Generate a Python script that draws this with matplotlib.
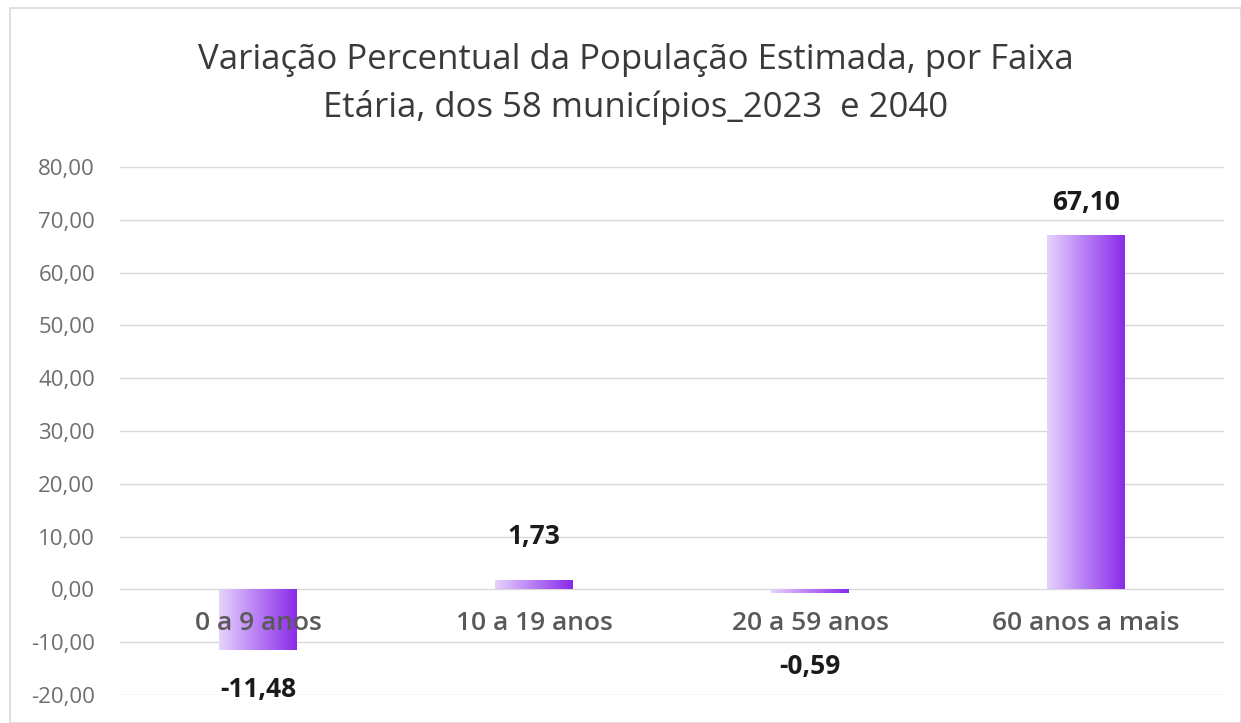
import numpy as np
import matplotlib

matplotlib.use("Agg")
import matplotlib.pyplot as plt  # noqa: E402
from matplotlib.colors import LinearSegmentedColormap  # noqa: E402
from matplotlib.patches import Rectangle  # noqa: E402

# -------------------------------
# Data
# -------------------------------
categories = ["0 a 9 anos", "10 a 19 anos", "20 a 59 anos", "60 anos a mais"]
variacao = [-11.48, 1.73, -0.59, 67.10]
y_ticks = [-20, -10, 0, 10, 20, 30, 40, 50, 60, 70, 80]
title = "Variação Percentual da População Estimada, por Faixa\nEtária, dos 58 municípios_2023  e 2040"

# label offsets from bar end (the labels were nudged by hand in the original)
label_offsets = [-7.4, 8.3, -14.0, 6.1]


def fmt_br(v):
    return f"{v:.2f}".replace(".", ",")


plt.rcParams["font.family"] = ["Open Sans", "DejaVu Sans"]

fig = plt.figure(figsize=(12.41, 7.23), dpi=100)

# light frame around the chart area
fig.patches.append(Rectangle((10 / 1241, 0), 1 - 10 / 1241, 1 - 8 / 723,
                             transform=fig.transFigure, fill=False,
                             edgecolor="#d9d9d9", linewidth=1.2))

ax = fig.add_axes([120 / 1241, 1 - 695 / 723, 1104 / 1241, 528 / 723])
x = np.arange(len(categories))
ax.set_xlim(-0.5, len(categories) - 0.5)
ax.set_ylim(-20, 80)

cmap = LinearSegmentedColormap.from_list("roxo", ["#e6d3fb", "#b77cf5", "#8a2be8"])
grad = np.linspace(0, 1, 256).reshape(1, -1)

bars = ax.bar(x, variacao, width=0.28, color="none", edgecolor="none", zorder=3)
for b in bars:
    x0, w = b.get_x(), b.get_width()
    y0, h = b.get_y(), b.get_height()
    im = ax.imshow(grad, cmap=cmap, aspect="auto", zorder=3,
                   extent=[x0, x0 + w, min(y0, y0 + h), max(y0, y0 + h)])
    im.set_clip_path(b)

ax.set_yticks(y_ticks)
ax.set_yticklabels([fmt_br(v) for v in y_ticks], fontsize=16, color="#6e6e6e")
ax.set_xticks([])
ax.tick_params(axis="y", length=0, pad=18)
ax.grid(axis="y", color="#d9d9d9", linewidth=1.0, zorder=0)
ax.set_axisbelow(True)
for s in ax.spines.values():
    s.set_visible(False)

# category labels sit just below zero line
for xi, cat in zip(x, categories):
    ax.text(xi, -6.4, cat, ha="center", va="center", fontsize=19,
            fontweight="semibold", color="#595959", zorder=4)

# value labels
for xi, v, off in zip(x, variacao, label_offsets):
    ax.text(xi, v + off, fmt_br(v), ha="center", va="center", fontsize=19,
            fontweight="bold", color="#1a1a1a", zorder=4, clip_on=False)

fig.text(636 / 1241, 1 - 84 / 723, title, ha="center", va="center",
         fontsize=25, color="#3a3a3a", linespacing=1.45)

fig.savefig("out.png", dpi=100)
